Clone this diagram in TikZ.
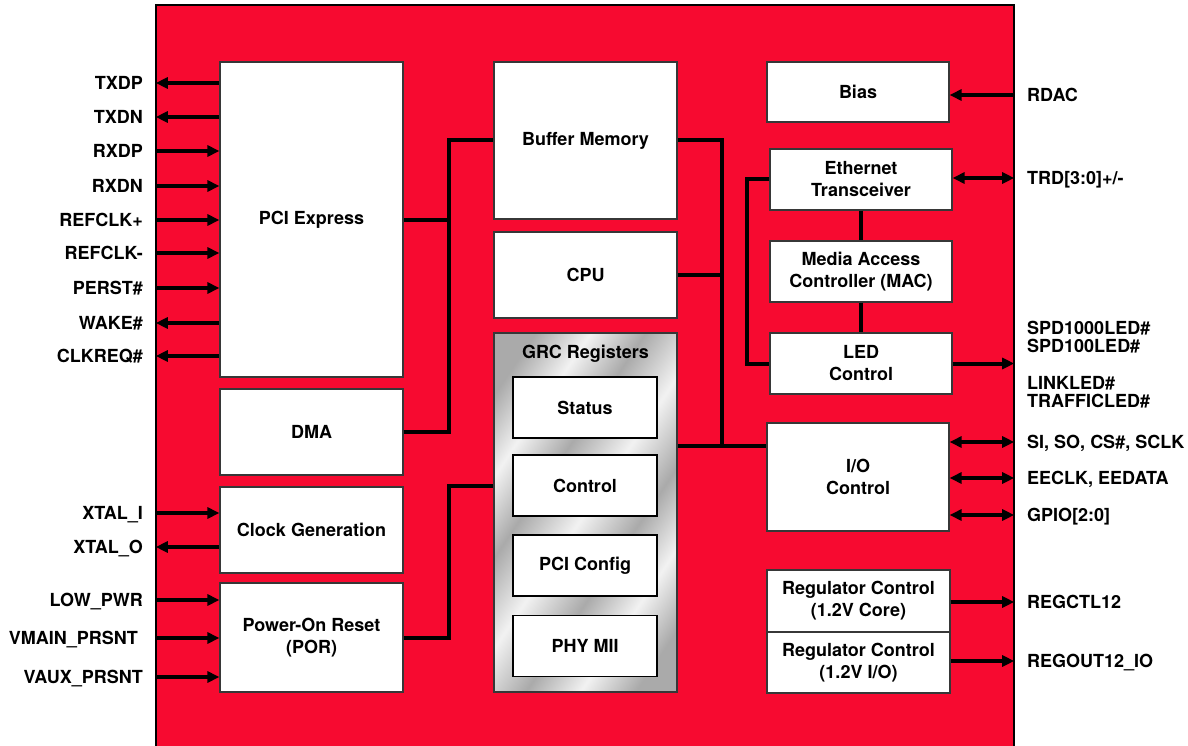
\documentclass[tikz,border=0pt]{standalone}
\usepackage{fontspec}
\setmainfont{TeX Gyre Heros}
\usetikzlibrary{arrows.meta}

\definecolor{chipred}{RGB}{247,10,48}
\definecolor{boxedge}{RGB}{55,55,55}
\definecolor{metalL}{RGB}{242,242,242}
\definecolor{metalD}{RGB}{170,170,170}

% brushed-metal look for the register bank
\pgfdeclarehorizontalshading{brushedmetal}{100bp}{%
  color(0bp)=(metalD); color(22bp)=(metalD);
  color(31bp)=(metalL); color(40bp)=(metalD);
  color(50bp)=(metalL); color(60bp)=(metalD);
  color(69bp)=(metalL); color(78bp)=(metalD);
  color(100bp)=(metalD)}

\tikzset{
  blk/.style={draw=boxedge, line width=1.2pt, fill=white, align=center, inner sep=0pt},
  bus/.style={line width=4pt},
  pin/.style={line width=4pt},
  pinL/.style={anchor=east, inner sep=0pt, text height=13pt, text depth=0pt},
  pinR/.style={anchor=west, inner sep=0pt, text height=13pt, text depth=0pt},
}

\begin{document}
\begin{tikzpicture}[x=1pt, y=-1pt,
  font=\bfseries\fontsize{18pt}{22pt}\selectfont,
  >={Triangle[length=12pt,width=11pt]}]

\useasboundingbox (0,0) rectangle (1188,746);

% chip outline (runs off the bottom edge)
\begin{scope}
  \clip (0,0) rectangle (1188,746);
  \node[fill=chipred, inner sep=0pt, minimum width=858pt, minimum height=760pt] (chip) at (585,385) {};
  \draw[line width=2pt] (chip.south west) -- (chip.north west) -- (chip.north east) -- (chip.south east);
\end{scope}

% ---------- left column ----------
\node[blk, minimum width=183pt, minimum height=315pt] (pcie) at (311.5,219.5) {PCI Express};
\node[blk, minimum width=183pt, minimum height=86pt]  (dma)  at (311.5,432)   {DMA};
\node[blk, minimum width=183pt, minimum height=86pt]  (clk)  at (311.5,530)   {Clock Generation};
\node[blk, minimum width=183pt, minimum height=109pt] (por)  at (311.5,637.5) {Power-On Reset\\(POR)};

% ---------- middle column ----------
\node[blk, minimum width=183pt, minimum height=157pt] (buf) at (585.5,140.5) {Buffer Memory};
\node[blk, minimum width=183pt, minimum height=86pt]  (cpu) at (585.5,275)   {CPU};
\node[draw=boxedge, line width=1.2pt, shading=brushedmetal, shading angle=-34,
      minimum width=183pt, minimum height=359pt, inner sep=0pt] (grc) at (585.5,512.5) {};
\node[inner sep=0pt] (grctitle) at (585.5,354) {GRC Registers};
\node[blk, draw=black, minimum width=144pt, minimum height=61pt] (status)  at (585,407.5) {Status};
\node[blk, draw=black, minimum width=144pt, minimum height=61pt] (control) at (585,485.5) {Control};
\node[blk, draw=black, minimum width=144pt, minimum height=61pt] (pcicfg)  at (585,565.5) {PCI Config};
\node[blk, draw=black, minimum width=144pt, minimum height=61pt] (phymii)  at (585,646)   {PHY MII};

% ---------- right column ----------
\node[blk, minimum width=182pt, minimum height=60pt]  (bias) at (858,92)    {Bias};
\node[blk, minimum width=182pt, minimum height=61pt]  (eth)  at (861,179.5) {Ethernet\\Transceiver};
\node[blk, minimum width=182pt, minimum height=61pt]  (mac)  at (861,271.5) {Media Access\\Controller (MAC)};
\node[blk, minimum width=182pt, minimum height=61pt]  (led)  at (861,363.5) {LED\\Control};
\node[blk, minimum width=182pt, minimum height=108pt] (io)   at (858,477)   {I/O\\Control};
\node[blk, minimum width=183pt, minimum height=62pt]  (reg1) at (858.5,601)   {Regulator Control\\(1.2V Core)};
\node[blk, minimum width=183pt, minimum height=61pt]  (reg2) at (858.5,662.5) {Regulator Control\\(1.2V I/O)};

% ---------- internal buses ----------
\coordinate (busL) at (449,0);
\coordinate (busR) at (722,446);
\coordinate (busE) at (747,0);

\draw[bus] (pcie.east) -- (pcie.east -| busL) |- (buf.west);
\draw[bus] (dma.east) -- (dma.east -| busL) -- (pcie.east -| busL);
\draw[bus] (por.east) -- (por.east -| busL) |- (grc.west |- control);

\draw[bus] (buf.east) -| (busR);
\draw[bus] (cpu.east) -- (cpu.east -| busR);
\draw[bus] (grc.east |- busR) -- (io.west |- busR);

\draw[bus] (eth.west) -- (eth.west -| busE) |- (led.west);
\draw[bus] (eth.south) -- (mac.north);
\draw[bus] (mac.south) -- (led.north);

% ---------- left pins ----------
\node[pinL] (txdp)   at (143,83)  {TXDP};
\node[pinL] (txdn)   at (143,117) {TXDN};
\node[pinL] (rxdp)   at (143,151) {RXDP};
\node[pinL] (rxdn)   at (143,186) {RXDN};
\node[pinL] (refp)   at (143,220) {REFCLK+};
\node[pinL] (refn)   at (143,253) {REFCLK-};
\node[pinL] (perst)  at (143,288) {PERST\#};
\node[pinL] (wake)   at (143,323) {WAKE\#};
\node[pinL] (clkreq) at (143,356) {CLKREQ\#};
\node[pinL] (xtali)  at (143,513) {XTAL\_I};
\node[pinL] (xtalo)  at (143,547) {XTAL\_O};
\node[pinL] (lowpwr) at (143,600) {LOW\_PWR};
\node[pinL] (vmain)  at (138,638) {VMAIN\_PRSNT};
\node[pinL] (vaux)   at (143,677) {VAUX\_PRSNT};

\draw[pin,<-] (chip.west |- txdp)   -- (pcie.west |- txdp);
\draw[pin,<-] (chip.west |- txdn)   -- (pcie.west |- txdn);
\draw[pin,->] (chip.west |- rxdp)   -- (pcie.west |- rxdp);
\draw[pin,->] (chip.west |- rxdn)   -- (pcie.west |- rxdn);
\draw[pin,->] (chip.west |- refp)   -- (pcie.west |- refp);
\draw[pin,->] (chip.west |- refn)   -- (pcie.west |- refn);
\draw[pin,->] (chip.west |- perst)  -- (pcie.west |- perst);
\draw[pin,<-] (chip.west |- wake)   -- (pcie.west |- wake);
\draw[pin,<-] (chip.west |- clkreq) -- (pcie.west |- clkreq);
\draw[pin,->] (chip.west |- xtali)  -- (clk.west |- xtali);
\draw[pin,<-] (chip.west |- xtalo)  -- (clk.west |- xtalo);
\draw[pin,->] (chip.west |- lowpwr) -- (por.west |- lowpwr);
\draw[pin,->] (chip.west |- vmain)  -- (por.west |- vmain);
\draw[pin,->] (chip.west |- vaux)   -- (por.west |- vaux);

% ---------- right pins ----------
\node[pinR] (rdac)   at (1027,95)  {RDAC};
\node[pinR] (trd)    at (1027,178) {TRD[3:0]+/-};
\node[anchor=west, inner sep=0pt, align=left, font=\bfseries\fontsize{18pt}{18pt}\selectfont]
  (spdled) at (1027,337) {SPD1000LED\#\\SPD100LED\#};
\node[anchor=west, inner sep=0pt, align=left, font=\bfseries\fontsize{18pt}{18pt}\selectfont]
  (lnkled) at (1027,392.5) {LINKLED\#\\TRAFFICLED\#};
\node[pinR] (spi)    at (1027,442) {SI, SO, CS\#, SCLK};
\node[pinR] (ee)     at (1027,478) {EECLK, EEDATA};
\node[pinR] (gpio)   at (1027,515) {GPIO[2:0]};
\node[pinR] (regctl) at (1027,602) {REGCTL12};
\node[pinR] (regout) at (1027,661) {REGOUT12\_IO};

\draw[pin,->]  (chip.east |- rdac) -- (bias.east |- rdac);
\draw[pin,<->] (eth.east |- trd)   -- (chip.east |- trd);
\draw[pin,->]  (led.east) -- (chip.east |- led.east);
\draw[pin,<->] (io.east |- spi)  -- (chip.east |- spi);
\draw[pin,<->] (io.east |- ee)   -- (chip.east |- ee);
\draw[pin,<->] (io.east |- gpio) -- (chip.east |- gpio);
\draw[pin,->]  (reg1.east |- regctl) -- (chip.east |- regctl);
\draw[pin,->]  (reg2.east |- regout) -- (chip.east |- regout);

\end{tikzpicture}
\end{document}
